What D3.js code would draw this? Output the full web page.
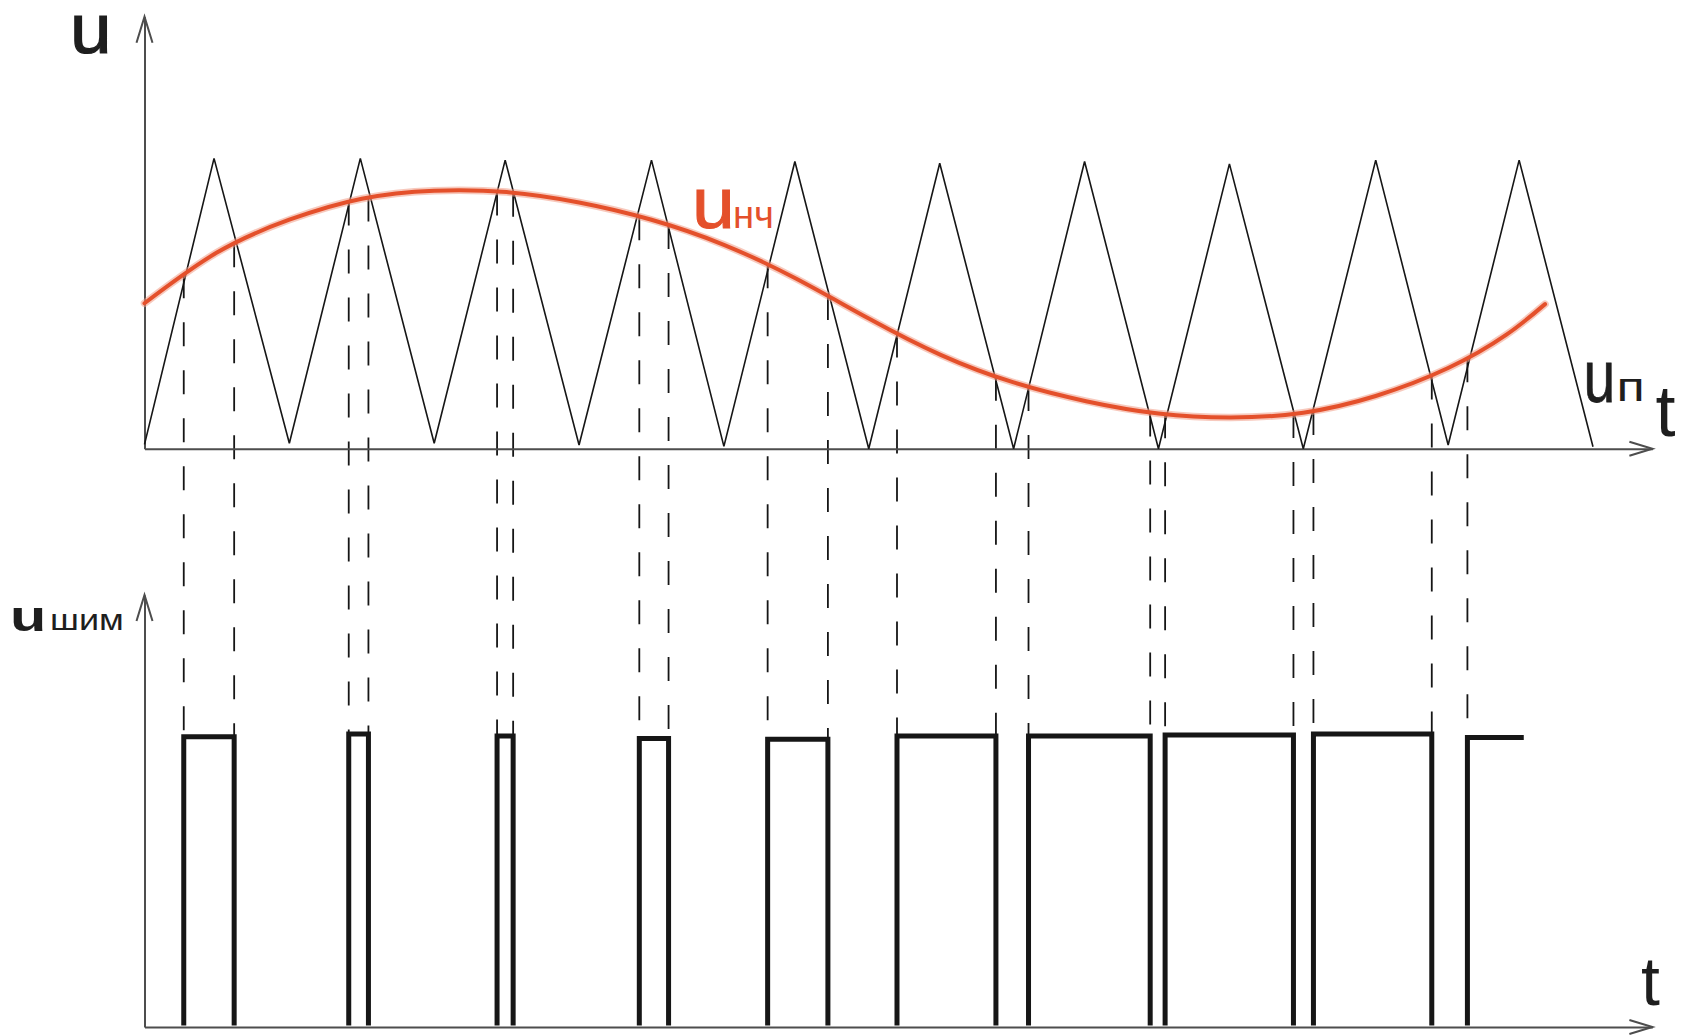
<!DOCTYPE html>
<html>
<head>
<meta charset="utf-8">
<script src="https://cdn.jsdelivr.net/npm/d3@7"></script>
<style>
  html, body { margin: 0; padding: 0; background: #fff; }
  svg { display: block; }
  text { font-family: "Liberation Sans", Arial, Helvetica, sans-serif; }
</style>
</head>
<body>
<script>
// ---------- DATA ----------
// carrier (triangle) u_п : vertices, time in carrier periods, u in arbitrary volts
const carrierT = [0, 0.48, 1, 1.49, 2, 2.49, 3, 3.5, 4, 4.49, 5, 5.49, 6, 6.49, 7, 7.49, 8, 8.5, 9, 9.49, 10];
const carrierU = [0.15, 10.08, 0.19, 10.08, 0.19, 10.02, 0.13, 10.02, 0.08, 9.97, 0, 9.91, 0, 9.97, 0, 9.89, 0, 10.02, 0.13, 10.02, 0.07];

// low-frequency signal u_нч (key points)
const signalT = [0, 0.5, 1.0, 1.5, 2.0, 2.5, 3.0, 3.5, 4.0, 4.5, 5.0, 5.5, 6.0, 6.5, 7.0, 7.5, 8.0, 8.5, 9.0, 9.4, 9.669];
const signalU = [5.05, 6.81, 7.95, 8.68, 8.96, 8.91, 8.55, 7.95, 7.08, 5.90, 4.52, 3.25, 2.30, 1.65, 1.22, 1.08, 1.25, 1.83, 2.80, 3.95, 5.02];

// times where carrier and signal cross (dashed projection lines / pulse edges)
const crossT = [0.271, 0.619, 1.41, 1.546, 2.434, 2.545, 3.416, 3.618, 4.302, 4.718, 5.195, 5.878, 6.103, 6.943, 7.046, 7.932, 8.07, 8.887, 9.133];

// PWM pulses u_шим
const pulseRise = [0.271, 1.41, 2.434, 3.416, 4.302, 5.195, 6.103, 7.046, 8.07, 9.133];
const pulseFall = [0.619, 1.546, 2.545, 3.618, 4.718, 5.878, 6.943, 7.932, 8.887, null];
const pulseHigh = [10.08, 10.17, 10.10, 10.02, 9.99, 10.10, 10.10, 10.14, 10.17, 10.05];
const pulseLow = 0.05;
const lastPulseEnd = 9.522;

// axis extents (data units)
const tMax = 10.41;
const uMax = 15;

// ---------- DRAW ----------
const W = 1684, H = 1036;
const svg = d3.select("body").append("svg").attr("width", W).attr("height", H);
svg.append("rect").attr("width", W).attr("height", H).attr("fill", "#fff");

const x = d3.scaleLinear().domain([0, 10]).range([144.5, 1593]);
const yTop = d3.scaleLinear().domain([0, uMax]).range([448.7, 16.7]);
const yBot = d3.scaleLinear().domain([0, uMax]).range([1027, 595]);

const axisColor = "#4d4d4d";
const ink = "#161616";
const orange = "#e4502b";

function drawAxes(y) {
  const xa = x.copy().domain([0, tMax]).range([x(0), x(tMax)]);
  svg.append("g").attr("transform", `translate(0,${y(0)})`)
    .call(d3.axisBottom(xa).tickValues([]).tickSizeOuter(0))
    .call(g => g.select(".domain").attr("stroke", axisColor).attr("stroke-width", 2));
  svg.append("g").attr("transform", `translate(${x(0)},0)`)
    .call(d3.axisLeft(y.copy()).tickValues([]).tickSizeOuter(0))
    .call(g => g.select(".domain").attr("stroke", axisColor).attr("stroke-width", 2));
  const tipX = x(tMax), y0 = y(0);
  svg.append("path")
    .attr("d", `M${tipX - 23},${y0 - 7}L${tipX},${y0}L${tipX - 23},${y0 + 7}`)
    .attr("fill", "none").attr("stroke", axisColor).attr("stroke-width", 2);
  const tipY = y(uMax), x0 = x(0);
  svg.append("path")
    .attr("d", `M${x0 - 8},${tipY + 26}L${x0},${tipY}L${x0 + 8},${tipY + 26}`)
    .attr("fill", "none").attr("stroke", axisColor).attr("stroke-width", 2);
}

const dashG = svg.append("g");
drawAxes(yTop);
drawAxes(yBot);

// carrier triangle
const carrier = carrierT.map((t, i) => ({ t, u: carrierU[i] }));
svg.append("path").datum(carrier)
  .attr("d", d3.line().x(d => x(d.t)).y(d => yTop(d.u)))
  .attr("fill", "none").attr("stroke", ink).attr("stroke-width", 1.6)
  .attr("stroke-linejoin", "miter");

// signal curve
const signal = signalT.map((t, i) => ({ t, u: signalU[i] }));
const sigLine = d3.line().x(d => x(d.t)).y(d => yTop(d.u)).curve(d3.curveNatural);
svg.append("path").datum(signal).attr("d", sigLine)
  .attr("fill", "none").attr("stroke", "#f19c86").attr("stroke-width", 7.5)
  .attr("stroke-opacity", 0.55).attr("stroke-linecap", "round");
const sigPath = svg.append("path").datum(signal).attr("d", sigLine)
  .attr("fill", "none").attr("stroke", orange).attr("stroke-width", 4)
  .attr("stroke-linecap", "round");

// y of the drawn signal curve at a given pixel x (binary search along path)
const sNode = sigPath.node();
const sLen = sNode.getTotalLength();
function curveYAt(px) {
  let lo = 0, hi = sLen;
  for (let k = 0; k < 40; k++) {
    const mid = (lo + hi) / 2;
    if (sNode.getPointAtLength(mid).x < px) lo = mid; else hi = mid;
  }
  return sNode.getPointAtLength((lo + hi) / 2).y;
}

// dashed projection lines
crossT.forEach((t, i) => {
  const p = Math.floor(i / 2);
  dashG.append("line")
    .attr("x1", x(t)).attr("x2", x(t))
    .attr("y1", curveYAt(x(t))).attr("y2", yBot(pulseHigh[p]))
    .attr("stroke", ink).attr("stroke-width", 1.8)
    .attr("stroke-dasharray", "24 24");
});

// PWM pulses
const pulses = pulseRise.map((r, i) => ({ r, f: pulseFall[i], h: pulseHigh[i] }));
svg.append("g").selectAll("path").data(pulses).join("path")
  .attr("d", d => {
    const pts = [[d.r, pulseLow], [d.r, d.h]];
    if (d.f !== null) { pts.push([d.f, d.h]); pts.push([d.f, pulseLow]); }
    else pts.push([lastPulseEnd, d.h]);
    return d3.line().x(p => x(p[0])).y(p => yBot(p[1]))(pts);
  })
  .attr("fill", "none").attr("stroke", ink).attr("stroke-width", 5)
  .attr("stroke-linejoin", "miter").attr("stroke-linecap", "butt");

// ---------- LABELS ----------
const labelColor = "#1e1e1e";
function label(str, xPos, yPos, size, len, color, weight, thick) {
  const c = color || labelColor;
  const g = svg.append("g");
  const t = g.append("text").attr("x", 0).attr("y", 0)
    .attr("font-size", size).attr("fill", c).text(str);
  if (weight) t.attr("font-weight", weight);
  if (thick) t.attr("stroke", c).attr("stroke-width", thick);
  let sx = 1;
  if (len) { const nat = t.node().getComputedTextLength(); if (nat > 0) sx = len / nat; }
  g.attr("transform", `translate(${xPos},${yPos}) scale(${sx},1)`);
  return t;
}
// top axis
label("u", 70, 53, 70, 41.6, null, null, 1.2);
label("t", 1655.5, 436, 72);
label("u", 1583.4, 402, 75, 31.7, null, null, 0.8);
label("п", 1616.5, 401, 41, 28.3);
// signal label
label("u", 692, 228.3, 73, 42.8, orange, null, 1);
label("нч", 733, 228, 38.5, 41, orange);
// bottom axis
label("u", 9.9, 630.5, 43, 36.3, null, "bold");
label("шим", 50, 630, 29, 73.8);
label("t", 1641, 1005, 68);
</script>
</body>
</html>
